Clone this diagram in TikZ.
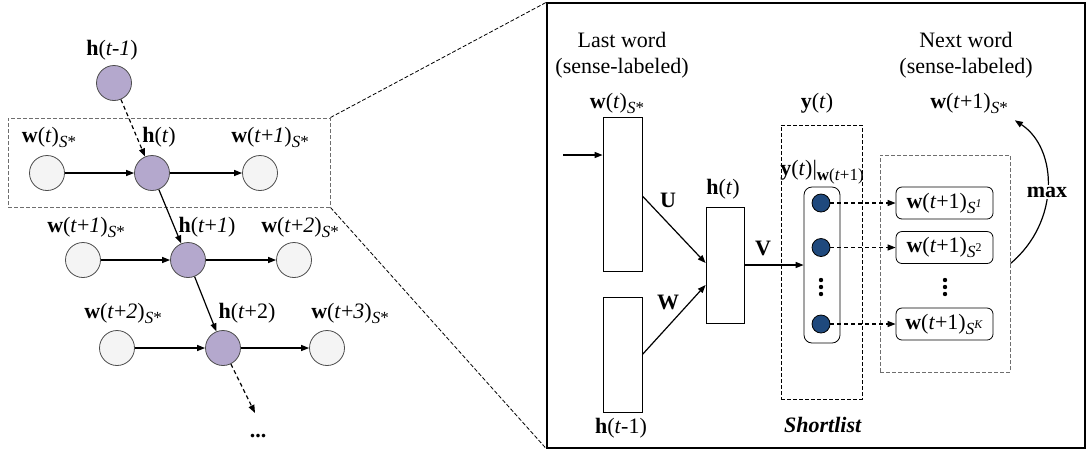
\documentclass[tikz,border=0pt]{standalone}
\usepackage{fontspec}
\setmainfont{Liberation Serif}
\usepackage{xcolor}
\usepackage{tikz}
\usetikzlibrary{arrows.meta, positioning, calc}
\definecolor{NodeLilac}{RGB}{180, 168, 205}
\definecolor{DotBlue}{RGB}{31, 73, 125}
\definecolor{FrameGray}{RGB}{110, 110, 110}
\definecolor{WordFill}{RGB}{244, 244, 244}

\newcommand{\lowsub}[1]{\raisebox{-0.5ex}{\fontsize{8.5pt}{9pt}\selectfont #1}}
\newcommand{\sstar}{\lowsub{\textit{S}*}}

\begin{document}
\begin{tikzpicture}[
    x=0.5pt, y=-0.5pt,
    every node/.style={font=\fontsize{11pt}{13pt}\selectfont},
    wordnode/.style={circle, draw=black!70, fill=WordFill, minimum size=17.5pt, inner sep=0pt},
    hidnode/.style={circle, draw=black!70, fill=NodeLilac, minimum size=17.5pt, inner sep=0pt},
    vecbox/.style={draw, minimum width=19.5pt, inner sep=0pt},
    dotnode/.style={circle, draw=black, fill=DotBlue, minimum size=9pt, inner sep=0pt},
    candbox/.style={draw, rounded corners=3pt, minimum width=48.5pt, minimum height=16pt, inner sep=0pt},
    link/.style={-{Triangle[length=4pt, width=3pt]}, line width=0.6pt},
    dashlink/.style={link, dash pattern=on 2pt off 1.5pt},
    dashframe/.style={draw, dash pattern=on 2pt off 1pt, line width=0.5pt, inner sep=0pt}
  ]
  \useasboundingbox (0,0) rectangle (1087,452);

  % unrolled network
  \node[hidnode] (hprev) at (114,83) {};
  \node (hprevlab) at (112,50) {\textbf{h}(\textit{t-1})};
  \node[dashframe, draw=FrameGray, minimum width=161pt, minimum height=44.5pt] (zoombox) at (169,162.5) {};

  \node[wordnode] (w0) at (47,173) {};
  \node[hidnode] (h0) at (152,173) {};
  \node[wordnode] (w1) at (260,173) {};
  \node at (49,137) {\textbf{w}(\textit{t})\sstar};
  \node at (159,137) {\textbf{h}(\textit{t})};
  \node at (270,137) {\textbf{w}(\textit{t}+\textit{1})\sstar};

  \node[wordnode] (w1b) at (83,260) {};
  \node[hidnode] (h1) at (188,260) {};
  \node[wordnode] (w2) at (294,260) {};
  \node at (86,227) {\textbf{w}(\textit{t}+\textit{1})\sstar};
  \node at (207,227) {\textbf{h}(\textit{t}+\textit{1})};
  \node at (300,227) {\textbf{w}(\textit{t}+\textit{2})\sstar};

  \node[wordnode] (w2b) at (117,348) {};
  \node[hidnode] (h2) at (223,348) {};
  \node[wordnode] (w3) at (327,348) {};
  \node at (123,313) {\textbf{w}(\textit{t}+\textit{2})\sstar};
  \node at (247,313) {\textbf{h}(\textit{t}+2)};
  \node at (350,313) {\textbf{w}(\textit{t}+\textit{3})\sstar};

  \coordinate (hnext) at (255,413);
  \node (more) at (258,436) {\textbf{...}};

  \draw[dashlink] (hprev) -- (h0);
  \draw[link] (w0) -- (h0);
  \draw[link] (h0) -- (w1);
  \draw[link] (h0) -- (h1);
  \draw[link] (w1b) -- (h1);
  \draw[link] (h1) -- (w2);
  \draw[link] (h1) -- (h2);
  \draw[link] (w2b) -- (h2);
  \draw[link] (h2) -- (w3);
  \draw[dashlink] (h2) -- (hnext);

  % zoomed step
  \node[draw, line width=0.7pt, minimum width=269pt, minimum height=222.5pt, inner sep=0pt] (bigbox) at (816,225.5) {};
  \draw[dash pattern=on 2pt off 1pt] (zoombox.north east) -- (bigbox.north west);
  \draw[dash pattern=on 2pt off 1pt] (zoombox.south east) -- (bigbox.south west);

  \node[align=center] (lastword) at (622,55) {Last word\\(sense-labeled)};
  \node (wcur) at (617,103) {\textbf{w}(\textit{t})\sstar};
  \node[vecbox, minimum height=77pt] (wtop) at (622.5,194) {};
  \node[vecbox, minimum height=57.5pt] (hold) at (622.5,354.5) {};
  \node (holdlab) at (621,428) {\textbf{h}(\textit{t}-1)};
  \node[vecbox, minimum width=19pt, minimum height=58pt] (hcur) at (725,265) {};
  \node (hcurlab) at (723,189) {\textbf{h}(\textit{t})};
  \coordinate (feed) at (563,155);

  \draw[link] (feed) -- (feed -| wtop.west);
  \draw[link] ([yshift=-1pt]wtop.east) -- ([yshift=1pt]hcur.west);
  \draw[link] (hold.east) -- ([yshift=-10pt]hcur.west);
  \node at (668,200) {\textbf{U}};
  \node at (668,302) {\textbf{W}};
  \node at (763,248) {\textbf{V}};

  \node[dashframe, minimum width=40.5pt, minimum height=137pt] (shortbox) at (821.5,262) {};
  \node (ylab) at (817,103) {\textbf{y}(\textit{t})};
  \node (yw) at (822,172) {\textbf{y}(\textit{t})|\lowsub{\textbf{w}(\textit{t}+1)}};
  \node[draw, rounded corners=4pt, minimum width=18pt, minimum height=78pt, inner sep=0pt] (ybar) at (822,265) {};
  \node (shortlab) at (823,425) {\textbf{\textit{Shortlist}}};
  \draw[link] (hcur.east) -- (ybar.west);

  \node[dotnode] (d1) at (821,203) {};
  \node[dotnode] (d2) at (821,247.5) {};
  \node[dotnode] (dk) at (821,324) {};
  \coordinate (ydots) at (821,287);
  \foreach \dy in {-7,0,7}
    \fill ($(ydots)+(0,\dy)$) circle (1.1pt);

  \node[dashframe, draw=FrameGray, minimum width=65pt, minimum height=108.5pt] (candframe) at (945,263.5) {};
  \node[candbox] (c1) at (944.5,203) {\textbf{w}(\textit{t}+1)\lowsub{\textit{S}\textsuperscript{\textit{1}}}};
  \node[candbox] (c2) at (944.5,247.5) {\textbf{w}(\textit{t}+1)\lowsub{\textit{S}\textsuperscript{2}}};
  \node[candbox] (ck) at (944.5,324) {\textbf{w}(\textit{t}+1)\lowsub{\textit{S}\textsuperscript{\textit{K}}}};
  \coordinate (cdots) at (945,287);
  \foreach \dy in {-7,0,7}
    \fill ($(cdots)+(0,\dy)$) circle (1.1pt);
  \draw[dashlink] (d1) -- (c1);
  \draw[dashlink] (d2) -- (c2);
  \draw[dashlink] (dk) -- (ck);

  \node[align=center] (nextword) at (966,55) {Next word\\(sense-labeled)};
  \node (wnext) at (969,103) {\textbf{w}(\textit{t}+1)\sstar};
  \draw[link] (candframe.east) .. controls +(50,-42) and +(43,28) .. (wnext.south east);
  \node[fill=white, inner sep=1pt] (maxlab) at (1047,192) {\textbf{max}};
\end{tikzpicture}
\end{document}
